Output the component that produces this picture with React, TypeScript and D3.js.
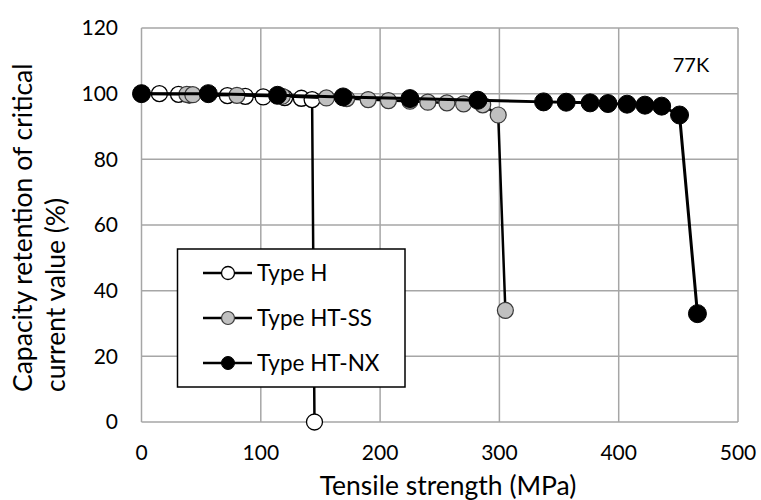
import React from "react";
import * as d3 from "d3";

const xTicks = [0, 100, 200, 300, 400, 500];
const yTicks = [0, 20, 40, 60, 80, 100, 120];

const typeHX = [0, 15, 31, 40, 72, 87, 102, 120, 134, 143, 145];
const typeHY = [100, 100, 99.8, 99.6, 99.4, 99.2, 99, 98.8, 98.6, 98.2, 0];

const typeSSX = [0, 38, 43, 80, 118, 155, 172, 190, 207, 225, 240, 256, 270, 286, 299, 305];
const typeSSY = [100, 99.8, 99.7, 99.5, 99.2, 98.7, 98.5, 98.2, 97.9, 97.7, 97.4, 97.2, 96.9, 96.6, 93.5, 34];

const typeNXX = [0, 56, 114, 169, 225, 282, 337, 356, 376, 391, 407, 422, 436, 451, 466];
const typeNXY = [100, 100, 99.5, 99, 98.5, 98, 97.5, 97.4, 97.2, 97, 96.8, 96.5, 96.2, 93.5, 33];

const seriesNames = ["Type H", "Type HT-SS", "Type HT-NX"];

const FONT = "Lato, 'Open Sans', sans-serif";

export default function App() {
  const W = 761, H = 500;
  const left = 141.5, right = 738, top = 28, bottom = 422;
  const x = d3.scaleLinear().domain([0, 500]).range([left, right]);
  const y = d3.scaleLinear().domain([0, 120]).range([bottom, top]);
  const line = d3.line<[number, number]>().x(d => x(d[0])).y(d => y(d[1]));

  const series = [
    { name: seriesNames[0], xs: typeHX, ys: typeHY, fill: "#ffffff", stroke: "#000000", sw: 1.3, r: 8, lw: 2.5 },
    { name: seriesNames[1], xs: typeSSX, ys: typeSSY, fill: "#c0c0c0", stroke: "#3a3a3a", sw: 1.2, r: 8, lw: 2.5 },
    { name: seriesNames[2], xs: typeNXX, ys: typeNXY, fill: "#000000", stroke: "#000000", sw: 1, r: 9, lw: 3 },
  ];

  return (
    <svg width={W} height={H} style={{ position: "absolute", left: 0, top: 0, background: "#fff" }} fontFamily={FONT}>
      <rect x={0} y={0} width={W} height={H} fill="#fff" />
      {/* grid */}
      {xTicks.map(t => (
        <line key={"gx" + t} x1={x(t)} x2={x(t)} y1={top} y2={bottom} stroke="#a6a6a6" strokeWidth={1.5} />
      ))}
      {yTicks.map(t => (
        <line key={"gy" + t} x1={left} x2={right} y1={y(t)} y2={y(t)} stroke="#a6a6a6" strokeWidth={1.5} />
      ))}
      {/* tick labels */}
      {xTicks.map(t => (
        <text key={"tx" + t} x={x(t)} y={460} textAnchor="middle" fontSize={21} fill="#000">{t}</text>
      ))}
      {yTicks.map(t => (
        <text key={"ty" + t} x={118} y={y(t)} dy="0.35em" textAnchor="end" fontSize={21} fill="#000">{t}</text>
      ))}
      {/* axis titles */}
      <text x={448} y={495} textAnchor="middle" fontSize={26.5} fill="#000">Tensile strength (MPa)</text>
      <g transform="translate(32,392) rotate(-90)">
        <text x={0} y={0} textAnchor="start" fontSize={26.5} fill="#000">Capacity retention of critical</text>
        <text x={0} y={33} textAnchor="start" fontSize={26.5} fill="#000">current value (%)</text>
      </g>
      <text x={691} y={65} dy="0.35em" textAnchor="middle" fontSize={20} fill="#000">77K</text>
      {/* series */}
      {series.map(s => {
        const pts: [number, number][] = s.xs.map((v, i) => [v, s.ys[i]]);
        return (
          <g key={s.name}>
            <path d={line(pts) || ""} fill="none" stroke="#000" strokeWidth={s.lw} />
            {pts.map((p, i) => (
              <circle key={i} cx={x(p[0])} cy={y(p[1])} r={s.r} fill={s.fill} stroke={s.stroke} strokeWidth={s.sw} />
            ))}
          </g>
        );
      })}
      {/* legend */}
      <g>
        <rect x={177.5} y={249} width={227.5} height={138} fill="#fff" stroke="#000" strokeWidth={1.5} />
        {series.map((s, i) => {
          const ly = 273 + i * 45;
          return (
            <g key={"lg" + s.name}>
              <line x1={203} x2={252} y1={ly} y2={ly} stroke="#000" strokeWidth={2.5} />
              <circle cx={228} cy={ly} r={6.5} fill={s.fill} stroke={s.stroke} strokeWidth={s.sw} />
              <text x={257} y={ly} dy="0.35em" fontSize={22.5} fill="#000">{s.name}</text>
            </g>
          );
        })}
      </g>
    </svg>
  );
}
